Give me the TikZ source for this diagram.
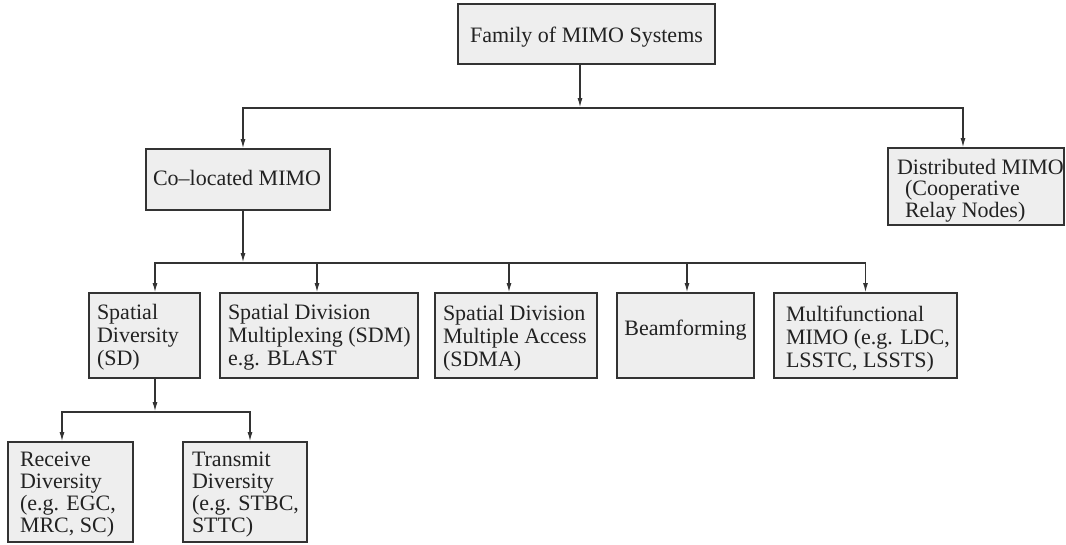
\documentclass[tikz,border=0pt]{standalone}
\usepackage{fontspec}
\setmainfont{Liberation Serif}
\usetikzlibrary{arrows.meta}
\definecolor{boxfill}{HTML}{EEEEEE}
\definecolor{ink}{HTML}{333333}
\definecolor{txt}{HTML}{222222}
\begin{document}
\begin{tikzpicture}[x=1pt,y=-1pt,
  box/.style={draw=ink,line width=1.6pt,fill=boxfill,anchor=north west,
    inner sep=0pt,outer sep=0pt},
  % labels are placed by the baseline of their last line
  lbl/.style={anchor=base west,inner sep=0pt,outer sep=0pt,align=left,text=txt,
    font=\fontsize{22}{23}\selectfont},
  line/.style={draw=ink,line width=1.6pt},
  arr/.style={line,-{Latex[length=10pt,width=5pt]}}]
\useasboundingbox (0,0) rectangle (1066,544);

% boxes
\node[box,minimum width=257pt,minimum height=60pt] (top)  at (458,4)   {};
\node[box,minimum width=184pt,minimum height=61pt] (colo) at (146,149) {};
\node[box,minimum width=176pt,minimum height=77pt] (dist) at (888,148) {};
\node[box,minimum width=111pt,minimum height=85pt] (sd)   at (89,293)  {};
\node[box,minimum width=198pt,minimum height=85pt] (sdm)  at (220,293) {};
\node[box,minimum width=162pt,minimum height=85pt] (sdma) at (435,293) {};
\node[box,minimum width=137pt,minimum height=85pt] (beam) at (617,293) {};
\node[box,minimum width=183pt,minimum height=85pt] (mf)   at (774,293) {};
\node[box,minimum width=125pt,minimum height=100pt] (rx)  at (8,442)   {};
\node[box,minimum width=124pt,minimum height=100pt] (tx)  at (183,442) {};

% labels
\node[lbl,anchor=base] (top-t) at (586.5,42) {Family of MIMO Systems};
\node[lbl] (colo-t) at (153,185) {Co--located MIMO};
\node[lbl,font=\fontsize{22}{21.5}\selectfont] (dist-t) at (897,217)
  {Distributed MIMO\\\hspace*{8pt}(Cooperative\\\hspace*{8pt}Relay Nodes)};
\node[lbl] (sd-t)   at (97,365)  {Spatial\\Diversity\\(SD)};
\node[lbl] (sdm-t)  at (228,365) {Spatial Division\\Multiplexing (SDM)\\e.g. BLAST};
\node[lbl] (sdma-t) at (443,366) {Spatial Division\\Multiple Access\\(SDMA)};
\node[lbl,anchor=base] (beam-t) at (685.5,335) {Beamforming};
\node[lbl] (mf-t)   at (786,367) {Multifunctional\\MIMO (e.g. LDC,\\LSSTC, LSSTS)};
\node[lbl,font=\fontsize{22}{22}\selectfont] (rx-t) at (20,532)
  {Receive\\Diversity\\(e.g. EGC,\\MRC, SC)};
\node[lbl,font=\fontsize{22}{22}\selectfont] (tx-t) at (192,532)
  {Transmit\\Diversity\\(e.g. STBC,\\STTC)};

% junctions
\coordinate (j0) at (580,108);
\coordinate (j1) at (243,263);
\coordinate (j2) at (155,412);

% connectors
\draw[arr] (top.south -| j0) -- (j0);
\draw[arr] (j0) -| ([xshift=5pt]colo.north);
\draw[arr] (j0) -| ([xshift=-13pt]dist.north);

\draw[arr] ([xshift=5pt]colo.south) -- (j1);
\draw[arr] (j1) -| ([xshift=10.5pt]sd.north);
\draw[arr] (j1) -| ([xshift=-2pt]sdm.north);
\draw[arr] (j1) -| ([xshift=-7pt]sdma.north);
\draw[arr] (j1) -| ([xshift=1.5pt]beam.north);
\draw[arr] (j1) -| (mf.north);

\draw[arr] ([xshift=10.5pt]sd.south) -- (j2);
\draw[arr] (j2) -| ([xshift=-8.5pt]rx.north);
\draw[arr] (j2) -| ([xshift=5pt]tx.north);
\end{tikzpicture}
\end{document}
